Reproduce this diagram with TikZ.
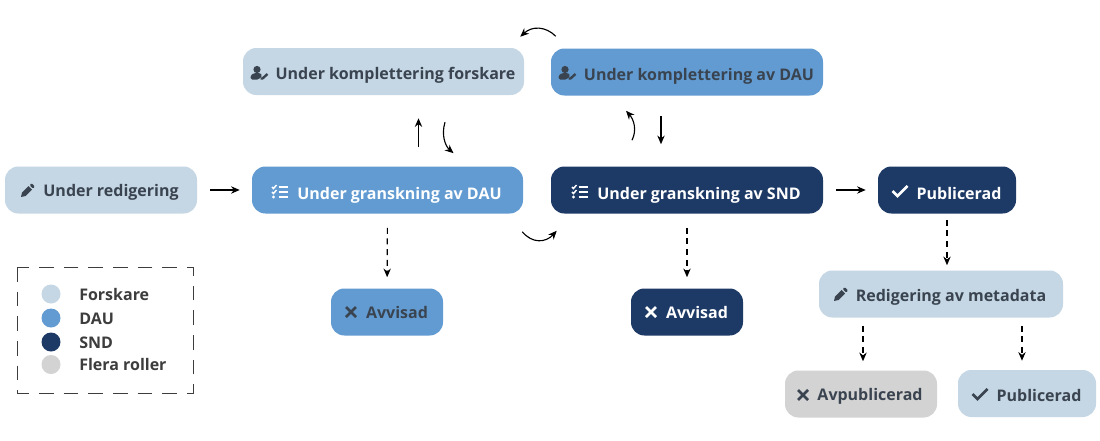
\documentclass[tikz,border=0pt]{standalone}
\usepackage{fontspec}
\setmainfont{Open Sans}
\usetikzlibrary{arrows.meta,calc}
\definecolor{cforsk}{HTML}{C5D7E4}
\definecolor{cdau}{HTML}{629BD1}
\definecolor{csnd}{HTML}{1D3A66}
\definecolor{cflera}{HTML}{D3D3D3}
\definecolor{cink}{HTML}{3A4450}
\definecolor{cleg}{HTML}{3D3D3D}
\newcommand{\stnode}[8]{%
  \node[stbox,fill=#2,text=#3,minimum width=#4*0.75pt,minimum height=47*0.75pt] (#1) at (#5) {\hspace*{\dimexpr #6pt*3/4\relax}\raisebox{\dimexpr -#7pt*3/4\relax}{#8}};}
\tikzset{
  stbox/.style={rectangle,rounded corners=10pt,inner sep=0pt,text height=0pt,text depth=0pt,
    font=\fontsize{12}{14}\selectfont\bfseries},
  legdot/.style={circle,inner sep=0pt,minimum size=14.25pt},
  legtext/.style={anchor=base west,inner sep=0pt,text=cleg,font=\fontsize{12}{14}\selectfont\bfseries},
  flow/.style={draw=black,line width=0.85pt,-{Stealth[length=6.5pt,width=5.5pt]}},
  dflow/.style={flow,dash pattern=on 4.5pt off 3.5pt},
  pics/pencilicon/.style={code={
    \fill[#1] (-7,7) -- (-6,2.5) -- (0.5,-4) -- (4,-0.5) -- (-2.5,6) -- cycle;
    \fill[#1,rounded corners=0.8pt] (1.5,-5) -- (3.5,-7) -- (7,-3.5) -- (5,-1.5) -- cycle;}},
  pics/usericon/.style={code={
    \fill[#1] (-2,-3.5) circle (3.6);
    \fill[#1,rounded corners=1.2pt] (-8.5,6.5) -- (-8.5,2.5) -- (-5,0) -- (1,0) -- (3.5,2) -- (0,6.5) -- cycle;
    \draw[#1,line width=1.8pt] (1.5,5.5) -- (3.5,5.5) -- (8.5,1);}},
  pics/tasksicon/.style={code={
    \draw[#1,line width=1.5pt] (-1.5,-5) -- (7.5,-5) (-1.5,0) -- (7.5,0) (-1.5,5) -- (7.5,5);
    \draw[#1,line width=1.1pt] (-8,-5) -- (-6.5,-3.5) -- (-3.5,-7) (-8,0) -- (-6.5,1.5) -- (-3.5,-2);
    \fill[#1] (-6.5,5) circle (1.6);}},
  pics/checkicon/.style={code={
    \draw[#1,line width=2pt] (-7.5,0) -- (-2.5,5) -- (7.5,-5);}},
  pics/timesicon/.style={code={
    \draw[#1,line width=2pt] (-5,-5) -- (5,5) (-5,5) -- (5,-5);}},
}
\begin{document}
\begin{tikzpicture}[x=0.75pt,y=-0.75pt]
\useasboundingbox (0,0) rectangle (1100,440);
\fill[white] (0,0) rectangle (1100,440);

\stnode{ukf}{cforsk}{cink}{281}{383.5,71.5}{24}{8}{Under komplettering forskare}
\stnode{ukd}{cdau}{cink}{272}{687,72}{24}{8}{Under komplettering av DAU}
\stnode{red}{cforsk}{cink}{192}{101,190}{20}{6}{Under redigering}
\stnode{dau}{cdau}{white}{271}{387.5,190}{24}{9}{Under granskning av DAU}
\stnode{snd}{csnd}{white}{272}{687,190}{24}{9}{Under granskning av SND}
\stnode{pub}{csnd}{white}{138}{947,190}{24}{9}{Publicerad}
\stnode{avd}{cdau}{cink}{112}{387,312}{20}{6}{Avvisad}
\stnode{avs}{csnd}{white}{112}{687,312}{20}{6}{Avvisad}
\stnode{meta}{cforsk}{cink}{244}{941,294}{20}{7}{Redigering av metadata}
\stnode{avp}{cflera}{cink}{152}{861,394}{18}{6}{Avpublicerad}
\stnode{pubb}{cforsk}{cink}{138}{1027,393.5}{24}{8}{Publicerad}

\pic at (259,73) {usericon=cink};
\pic at (567,73) {usericon=cink};
\pic at (28,190) {pencilicon=cink};
\pic at (280,192) {tasksicon=white};
\pic at (580,192) {tasksicon=white};
\pic at (900,191) {checkicon=white};
\pic at (351,312) {timesicon=cink};
\pic at (651,312) {timesicon=white};
\pic at (841,294) {pencilicon=cink};
\pic at (803,395) {timesicon=cink};
\pic at (980,394) {checkicon=cink};

\draw[flow,shorten <=9.75pt,shorten >=9pt] (red) -- (dau);
\draw[flow,shorten <=9.75pt,shorten >=9pt] (snd) -- (pub);
\draw[dflow,shorten <=10.5pt,shorten >=8.25pt] (dau) -- (avd);
\draw[dflow,shorten <=10.5pt,shorten >=8.25pt] (snd) -- (avs);
\draw[flow] ($(dau.north)+(31,-19)$) -- ($(ukf.south)+(35,23)$);
\draw[flow] ($(ukd.south)+(-26,20)$) -- ($(snd.north)+(-26,-22)$);
\draw[dflow] ($(pub.south)+(0,6)$) -- ($(meta.north)+(6,-5)$);
\draw[dflow] ($(meta.south)+(-78,8)$) -- ($(avp.north)+(2,-9)$);
\draw[dflow] ($(meta.south)+(81,8)$) -- ($(pubb.north)+(-5,-9)$);
\draw[flow] ($(dau.north)+(57.5,-44)$) .. controls +(-4,13) and +(-8,-7) .. ($(dau.north)+(66,-13)$);
\draw[flow] ($(snd.north)+(-55,-26)$) .. controls +(5,-10) and +(8,9) .. ($(ukd.south)+(-61,15)$);
\draw[flow] ($(ukd.north west)+(5,-12)$) .. controls +(-10,-10) and +(12,-11) .. ($(ukf.north east)+(-4,-11)$);
\draw[flow] ($(dau.south east)+(-1,18)$) .. controls +(10,12) and +(-11,12) .. ($(snd.south west)+(6,17)$);

\draw[draw=cleg,line width=0.75pt,dash pattern=on 11pt off 7.5pt] (17,267) rectangle (193,393);
\node[legdot,fill=cforsk] (l1) at (51,294) {};
\node[legdot,fill=cdau] (l2) at (51,318) {};
\node[legdot,fill=csnd] (l3) at (51,342) {};
\node[legdot,fill=cflera] (l4) at (51,364.5) {};
\node[legtext] (t1) at (79,300.5) {Forskare};
\node[legtext] (t2) at (79,324.5) {DAU};
\node[legtext] (t3) at (79,348.5) {SND};
\node[legtext] (t4) at (79,370.5) {Flera roller};
\end{tikzpicture}
\end{document}
